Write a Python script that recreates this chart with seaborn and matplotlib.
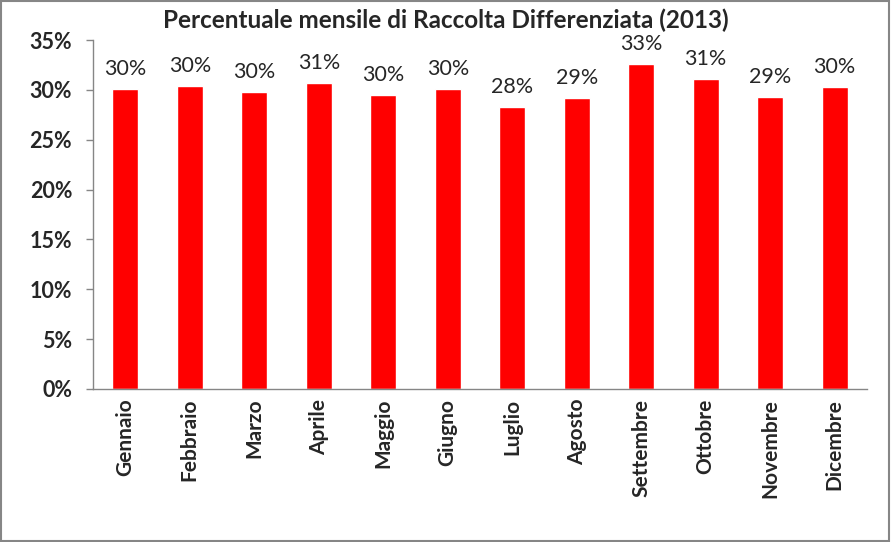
import matplotlib
matplotlib.use("Agg")
import matplotlib.pyplot as plt
import seaborn as sns
import pandas as pd
import numpy as np
from matplotlib.ticker import FixedLocator, PercentFormatter
from matplotlib.patches import Rectangle

months = ["Gennaio", "Febbraio", "Marzo", "Aprile", "Maggio", "Giugno",
          "Luglio", "Agosto", "Settembre", "Ottobre", "Novembre", "Dicembre"]
values = [30.1, 30.4, 29.8, 30.7, 29.5, 30.1, 28.3, 29.2, 32.6, 31.1, 29.3, 30.3]
yticks = [0, 5, 10, 15, 20, 25, 30, 35]
title = "Percentuale mensile di Raccolta Differenziata (2013)"

sns.set_style("white")
plt.rcParams['font.family'] = ['Lato', 'DejaVu Sans']

df = pd.DataFrame({"mese": months, "valore": values})

fig = plt.figure(figsize=(8.91, 5.42), dpi=100)
ax = fig.add_axes([0.1044, 0.2823, 0.973 - 0.1044, 0.926 - 0.2823])
sns.barplot(data=df, x="mese", y="valore", color="#ff0000", width=0.4,
            saturation=1, ax=ax)

ax.set_ylim(0, 35)
ax.set_xlim(-0.5, len(months) - 0.5)
ax.set_yticks(yticks)
ax.yaxis.set_major_formatter(PercentFormatter(decimals=0))
ax.set_xlabel("")
ax.set_ylabel("")

for lbl in ax.get_yticklabels():
    lbl.set_fontsize(15.5)
    lbl.set_fontweight("bold")
ax.set_xticks(range(len(months)))
ax.set_xticklabels(months, rotation=90, fontsize=15, fontweight="bold")
ax.tick_params(axis="x", which="major", length=0, pad=7)
ax.xaxis.set_minor_locator(FixedLocator(np.arange(-0.5, len(months), 1)))
ax.tick_params(axis="x", which="minor", length=6, color="#868686", width=1, direction="out")
ax.tick_params(axis="y", length=5, color="#868686", width=1, direction="out", pad=10, left=True)

for s in ["top", "right"]:
    ax.spines[s].set_visible(False)
for s in ["left", "bottom"]:
    ax.spines[s].set_color("#868686")
    ax.spines[s].set_linewidth(1)

for p, v in zip(ax.patches, values):
    ax.text(p.get_x() + p.get_width() / 2, v + 1.0, f"{round(v):d}%",
            ha="center", va="bottom", fontsize=15.5)

fig.text(0.5, 0.962, title, ha="center", va="center", fontsize=17.5, fontweight="bold")

fig.patches.append(Rectangle((0.001, 0.002), 0.997, 0.996, transform=fig.transFigure,
                             fill=False, edgecolor="#868686", linewidth=1.5))

fig.savefig("out.png", dpi=100, facecolor="white")
